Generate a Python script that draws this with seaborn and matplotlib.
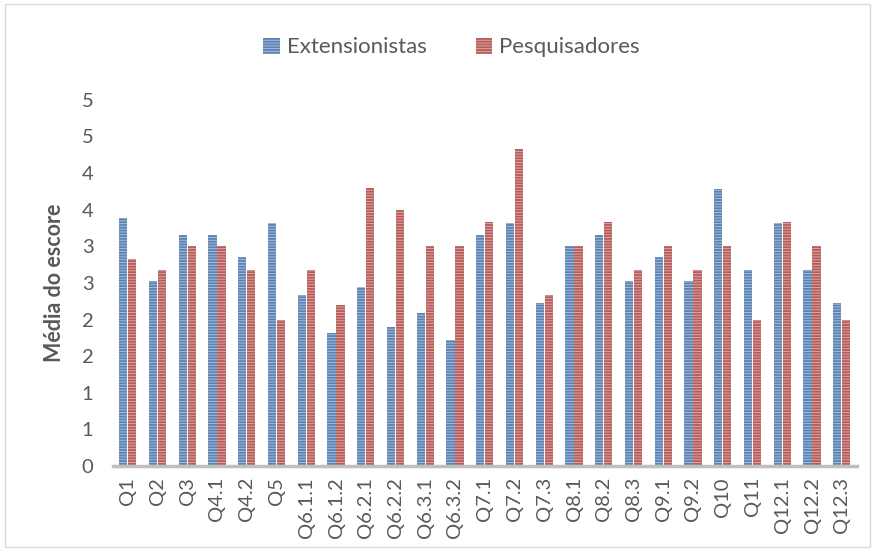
import matplotlib
matplotlib.use("Agg")
import matplotlib.pyplot as plt
import seaborn as sns
import pandas as pd
from matplotlib.patches import Rectangle


# data
questions = ["Q1", "Q2", "Q3", "Q4.1", "Q4.2", "Q5", "Q6.1.1", "Q6.1.2", "Q6.2.1",
             "Q6.2.2", "Q6.3.1", "Q6.3.2", "Q7.1", "Q7.2", "Q7.3", "Q8.1", "Q8.2",
             "Q8.3", "Q9.1", "Q9.2", "Q10", "Q11", "Q12.1", "Q12.2", "Q12.3"]
extensionistas = [3.38, 2.53, 3.15, 3.15, 2.85, 3.32, 2.33, 1.82, 2.45, 1.90, 2.09, 1.72,
                  3.15, 3.32, 2.22, 3.00, 3.15, 2.53, 2.85, 2.53, 3.78, 2.68, 3.32, 2.68, 2.22]
pesquisadores = [2.83, 2.67, 3.00, 3.00, 2.67, 2.00, 2.67, 2.20, 3.80, 3.50, 3.00, 3.00,
                 3.33, 4.33, 2.33, 3.00, 3.33, 2.67, 3.00, 2.67, 3.00, 2.00, 3.33, 3.00, 2.00]
series = ["Extensionistas", "Pesquisadores"]
y_ticks = [0, 0.5, 1, 1.5, 2, 2.5, 3, 3.5, 4, 4.5, 5]
y_tick_labels = ["0", "1", "1", "2", "2", "3", "3", "4", "4", "5", "5"]

df = pd.DataFrame({
    "questao": questions * 2,
    "grupo": [series[0]] * len(questions) + [series[1]] * len(questions),
    "media": extensionistas + pesquisadores,
})

sns.set_style("white")
plt.rcParams["font.family"] = ["Lato", "DejaVu Sans"]
plt.rcParams["hatch.linewidth"] = 0.7

text_color = "#595959"
colors = {"Extensionistas": "#4F81BD", "Pesquisadores": "#C0504D"}
hatch_colors = {"Extensionistas": "#A3BEE0", "Pesquisadores": "#E3A3A1"}

fig = plt.figure(figsize=(8.75, 5.58), dpi=100)
ax = fig.add_axes([0.129, 0.165, 0.850, 0.656])

sns.barplot(data=df, x="questao", y="media", hue="grupo", palette=colors,
            width=0.6, gap=0.07, ax=ax, legend=False)

# striped pattern fill like the original
for cont, name in zip(ax.containers, series):
    for bar in cont:
        bar.set_hatch("------")
        bar.set_edgecolor(hatch_colors[name])
        bar.set_linewidth(0)

ax.set_ylim(0, 5)
ax.set_xlim(-0.5, len(questions) - 0.5)
ax.set_yticks(y_ticks)
ax.set_yticklabels(y_tick_labels)
ax.tick_params(axis="both", length=0, labelsize=14.5, colors=text_color)
ax.tick_params(axis="y", pad=14)
ax.tick_params(axis="x", pad=8)
for lbl in ax.get_xticklabels():
    lbl.set_rotation(90)

ax.set_xlabel("")
ax.set_ylabel("Média do escore", fontsize=15.5, fontweight="bold", color=text_color, labelpad=12)

for side in ["top", "right", "left"]:
    ax.spines[side].set_visible(False)
ax.spines["bottom"].set_color("#BFBFBF")
ax.spines["bottom"].set_linewidth(2.5)

leg = ax.legend(handles=list(ax.containers), labels=series, loc="center",
                bbox_to_anchor=(0.516, 0.915), bbox_transform=fig.transFigure,
                ncol=2, frameon=False, fontsize=16, handlelength=0.75,
                handleheight=0.75, handletextpad=0.3, columnspacing=2.2)
for t in leg.get_texts():
    t.set_color(text_color)

# chart area border
fig.patches.append(Rectangle((0.006, 0.02), 0.988, 0.972, transform=fig.transFigure,
                             fill=False, edgecolor="#D9D9D9", linewidth=1))

fig.savefig("out.png", dpi=100)
